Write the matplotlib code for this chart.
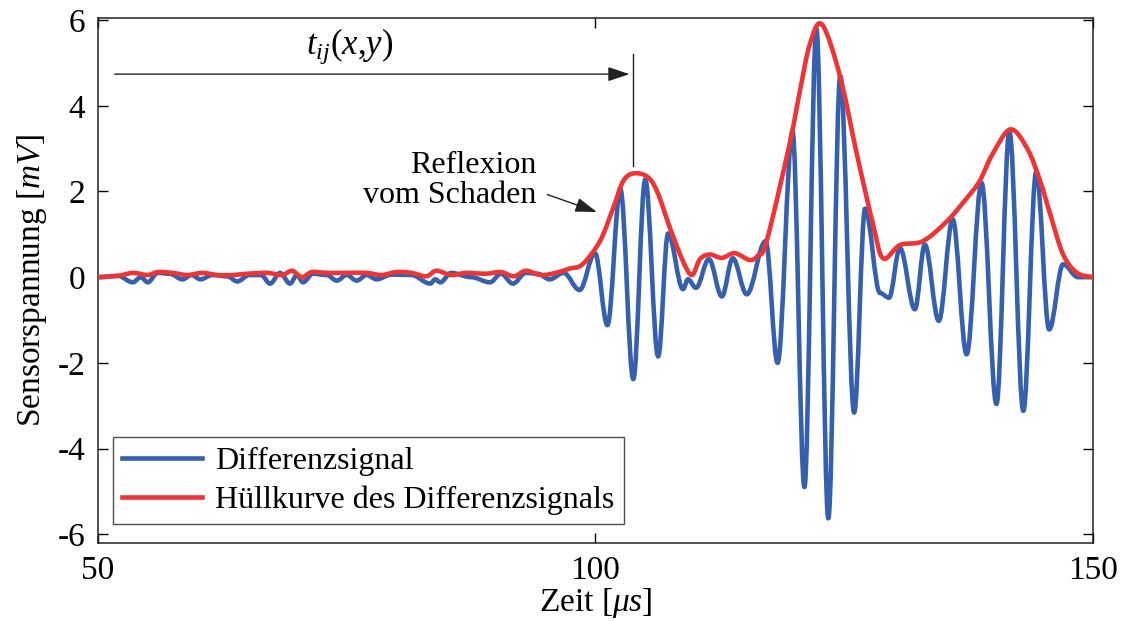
import matplotlib
matplotlib.use("Agg")
import matplotlib.pyplot as plt
from matplotlib.path import Path
from matplotlib.patches import PathPatch
from matplotlib.lines import Line2D

plt.rcParams['font.family'] = ['Liberation Serif', 'DejaVu Serif']
plt.rcParams['mathtext.fontset'] = 'custom'
plt.rcParams['mathtext.rm'] = 'Liberation Serif'
plt.rcParams['mathtext.it'] = 'Liberation Serif:italic'
plt.rcParams['axes.unicode_minus'] = False

# Differenzsignal: extrema (time in us, voltage in mV)
sig_t = [50.0, 52.0, 53.5, 54.3, 55.0, 56.0, 57.2, 58.5, 59.4, 60.3, 61.5, 63.0,
         64.0, 65.2, 66.4, 67.3, 68.3, 69.3, 70.0, 70.6, 71.6, 73.0, 74.0, 75.0,
         76.0, 77.0, 78.0, 79.5, 81.5, 83.4, 83.9, 84.4, 85.5, 87.5, 89.4, 90.5,
         91.7, 93.0, 94.2, 95.4, 96.8, 98.4, 99.95, 101.2, 102.5, 103.8, 105.0,
         106.3, 107.3, 108.8, 109.3, 110.1, 111.4, 112.7, 113.8, 115.2, 117.1,
         118.3, 119.8, 121.0, 122.2, 123.4, 124.6, 126.0, 127.1, 128.6, 129.5,
         130.6, 132.1, 133.1, 134.5, 135.9, 137.3, 138.8, 140.3, 141.6, 143.0,
         144.3, 145.6, 147.0, 148.5, 150.0]
sig_v = [0.0, 0.03, -0.12, 0.0, -0.12, 0.1, 0.08, -0.05, 0.05, -0.05, 0.05, 0.02,
         -0.1, 0.05, 0.05, -0.15, 0.1, -0.15, 0.05, -0.12, 0.08, 0.05, -0.08, 0.05,
         -0.08, 0.05, -0.05, 0.06, 0.05, -0.15, -0.05, -0.12, 0.1, 0.0, -0.12, 0.08,
         -0.15, 0.1, 0.08, -0.05, 0.1, -0.3, 0.56, -1.12, 2.05, -2.38, 2.28,
         -1.85, 1.02, -0.28, -0.05, -0.25, 0.42, -0.45, 0.44, -0.4, 0.84,
         -2.0, 3.4, -4.9, 5.8, -5.63, 4.7, -3.16, 1.6, -0.37, -0.48,
         0.68, -0.75, 0.76, -1.02, 1.35, -1.8, 2.2, -2.96, 3.4, -3.12,
         2.46, -1.22, 0.3, 0.0, 0.0]

# Huellkurve des Differenzsignals
env_t = [50.0, 52.0, 53.5, 55.0, 56.0, 57.5, 59.0, 60.5, 62.0, 63.5, 65.0, 67.0,
         68.5, 69.5, 70.5, 71.5, 73.0, 75.0, 77.0, 78.5, 80.0, 81.5, 83.0, 84.0,
         85.5, 87.0, 89.0, 90.5, 91.8, 93.0, 94.5, 96.0, 97.4, 98.7, 100.45,
         101.76, 102.76, 103.77, 105.18, 106.2, 107.5, 108.8, 109.7, 110.5,
         111.5, 112.7, 114.0, 115.5, 116.3, 117.2, 119.5, 120.55, 121.56, 122.76,
         124.57, 126.28, 127.9, 128.9, 130.6, 132.9, 135.3, 137.3, 138.6, 139.9,
         141.7, 143.4, 144.7, 145.7, 147.0, 148.4, 150.0]
env_v = [0.0, 0.03, 0.1, 0.05, 0.12, 0.1, 0.05, 0.1, 0.05, 0.05, 0.08, 0.1,
         0.05, 0.15, 0.0, 0.12, 0.1, 0.1, 0.1, 0.05, 0.12, 0.1, 0.02, 0.15,
         0.05, 0.1, 0.08, 0.12, 0.02, 0.15, 0.05, 0.1, 0.2, 0.3, 0.84,
         1.6, 2.23, 2.42, 2.35, 2.0, 1.14, 0.37, 0.05, 0.42,
         0.53, 0.45, 0.56, 0.4, 0.5, 0.84, 3.1, 4.35, 5.45, 5.9,
         4.7, 2.86, 1.23, 0.44, 0.75, 0.84, 1.3, 1.84, 2.24, 2.87,
         3.45, 3.0, 2.24, 1.47, 0.53, 0.1, 0.0]

blue = '#3560ae'
red = '#ee3434'


def extrema_path(ts, vs, k=0.36):
    # cubic segments with flat tangents at each extremum
    verts = [(ts[0], vs[0])]
    codes = [Path.MOVETO]
    for i in range(len(ts) - 1):
        dt = ts[i + 1] - ts[i]
        verts += [(ts[i] + k * dt, vs[i]), (ts[i + 1] - k * dt, vs[i + 1]), (ts[i + 1], vs[i + 1])]
        codes += [Path.CURVE4] * 3
    return Path(verts, codes)


def smooth_path(ts, vs):
    # Catmull-Rom style cubic segments
    n = len(ts)
    verts = [(ts[0], vs[0])]
    codes = [Path.MOVETO]
    for i in range(n - 1):
        a, b = max(i - 1, 0), min(i + 2, n - 1)
        m0 = ((ts[i + 1] - ts[a]) / 2, (vs[i + 1] - vs[a]) / 2)
        m1 = ((ts[b] - ts[i]) / 2, (vs[b] - vs[i]) / 2)
        verts += [(ts[i] + m0[0] / 3, vs[i] + m0[1] / 3),
                  (ts[i + 1] - m1[0] / 3, vs[i + 1] - m1[1] / 3),
                  (ts[i + 1], vs[i + 1])]
        codes += [Path.CURVE4] * 3
    return Path(verts, codes)


fig = plt.figure(figsize=(11.21, 6.21), dpi=100)
ax = fig.add_axes([0.0874, 0.126, 0.8876, 0.845])

ax.add_patch(PathPatch(extrema_path(sig_t, sig_v), facecolor='none', edgecolor=blue,
                       lw=3.3, capstyle='round', joinstyle='round', zorder=3))
ax.add_patch(PathPatch(smooth_path(env_t, env_v), facecolor='none', edgecolor=red,
                       lw=3.3, capstyle='round', joinstyle='round', zorder=4))

ax.set_xlim(50, 150)
ax.set_ylim(-6.2, 6.05)
ax.set_xticks([50, 100, 150])
ax.set_yticks([-6, -4, -2, 0, 2, 4, 6])
ax.tick_params(direction='in', length=7, width=1, labelsize=24, top=True, right=True, pad=9)
for s in ax.spines.values():
    s.set_linewidth(1.1)
    s.set_color('#222222')

ax.set_xlabel(r'Zeit $[\mu s]$', fontsize=24, labelpad=0)
ax.set_ylabel(r'Sensorspannung $[mV]$', fontsize=24, labelpad=6)

# t_ij(x,y) arrow
ax.annotate('', xy=(103.7, 4.74), xytext=(51.4, 4.74),
            arrowprops=dict(arrowstyle='-|>,head_length=0.6,head_width=0.2',
                            color='#222222', lw=1.0, mutation_scale=22))
ax.plot([103.75, 103.75], [5.2, 2.6], color='#222222', lw=1.0)
ax.text(75.3, 5.4, r'$t_{ij}(x{,}y)$', fontsize=25, ha='center', va='center')

# reflection annotation
ax.text(94.1, 2.25, 'Reflexion\nvom Schaden', fontsize=23, ha='right', va='center',
        linespacing=1.05)
ax.annotate('', xy=(100.4, 1.5), xytext=(94.9, 1.95),
            arrowprops=dict(arrowstyle='-|>,head_length=0.6,head_width=0.2',
                            color='#222222', lw=1.0, mutation_scale=22))

handles = [Line2D([], [], color=blue, lw=3.3), Line2D([], [], color=red, lw=3.3)]
leg = ax.legend(handles, ['Differenzsignal', 'Hüllkurve des Differenzsignals'],
                loc='lower left', bbox_to_anchor=(0.015, 0.035), fontsize=23,
                frameon=True, fancybox=False, handlelength=2.5, handletextpad=0.4,
                borderpad=0.3, labelspacing=0.3, borderaxespad=0)
leg.get_frame().set_edgecolor('#222222')
leg.get_frame().set_linewidth(1.0)

plt.savefig('out.png', dpi=100)
